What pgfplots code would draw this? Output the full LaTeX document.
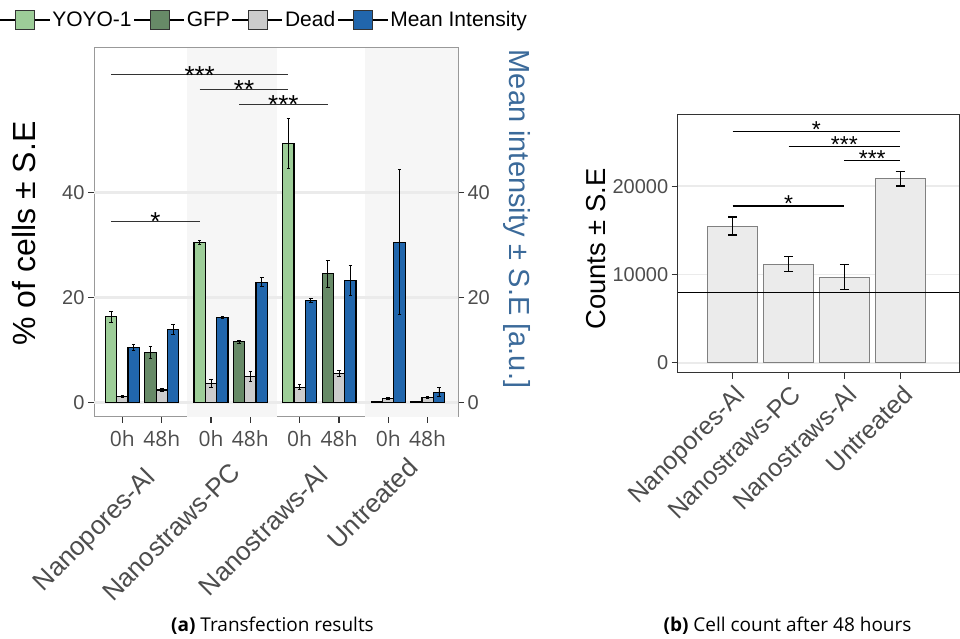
\documentclass[border=0pt]{standalone}
\usepackage{fontspec}
\setmainfont{Liberation Sans}
\newfontfamily\osans{Open Sans}
\usepackage{pgfplots}
\usepackage{pgfplotstable}
\pgfplotsset{compat=1.18}
\definecolor{yoyo}{HTML}{9DCD98}
\definecolor{gfp}{HTML}{678A67}
\definecolor{dead}{HTML}{CCCCCC}
\definecolor{meanint}{HTML}{2166AC}
\definecolor{band}{HTML}{F6F6F6}
\definecolor{gridc}{HTML}{EBEBEB}
\definecolor{ticklab}{HTML}{4D4D4D}
\definecolor{rlab}{HTML}{3B6A9A}
\definecolor{rbar}{HTML}{EBEBEB}

\pgfplotstableread{
x y e
-0.287 16.3 1.0
1.963 30.4 0.4
4.213 49.3 4.8
6.463 0.1 0.03
}\tyoyo
\pgfplotstableread{
x y e
0.713 9.5 1.1
2.963 11.5 0.3
5.213 24.5 2.6
7.463 0.05 0.03
}\tgfp
\pgfplotstableread{
x y e
0 1.1 0.2
1 2.35 0.2
2.25 3.6 0.7
3.25 4.9 0.95
4.5 2.86 0.45
5.5 5.5 0.55
6.75 0.76 0.15
7.75 1.0 0.2
}\tdead
\pgfplotstableread{
x y e
0.287 10.4 0.6
1.287 13.9 0.9
2.537 16.2 0.2
3.537 22.9 0.8
4.787 19.4 0.4
5.787 23.2 2.9
7.037 30.5 13.8
8.037 1.9 0.85
}\tmean
\pgfplotstableread{
x y e
1 15490 1020
2 11170 850
3 9700 1440
4 20830 800
}\tcounts

\pgfplotsset{
  lbar/.style={ybar, bar width=0.287, bar shift=0pt, draw=black, line width=1.1pt,
    error bars/.cd, y dir=both, y explicit,
    error bar style={line width=0.9pt, black},
    error mark options={rotate=90, mark size=1.8pt, line width=0.9pt, black},
    /pgfplots/.cd},
  lbarleg/.style={legend image code/.code={\path (-16pt,0pt) -- (34pt,0pt); \draw[line width=0.8pt, draw=black!80, fill=#1] (0pt,-9.5pt) rectangle (19pt,9.5pt);}},
}

\begin{document}
\begin{tikzpicture}
\path[use as bounding box] (0pt,0pt) rectangle (960pt,639pt);

% ---------- left panel ----------
\begin{axis}[
  at={(94pt,222pt)}, anchor=south west,
  scale only axis, width=364pt, height=369pt,
  xmin=-0.72, xmax=8.52, ymin=-2.8, ymax=67.5,
  axis line style={draw=black!40, line width=1pt},
  xtick={0,1,2.25,3.25,4.5,5.5,6.75,7.75},
  xticklabels={0h,48h,0h,48h,0h,48h,0h,48h},
  xtick pos=bottom, ytick pos=left,
  ytick={0,20,40},
  tick align=outside, major tick length=6pt,
  tick style={draw=black!80, line width=1.3pt},
  /pgf/number format/assume math mode=true,
  x tick label style={font=\osans\fontsize{21}{25}\selectfont, text=ticklab, yshift=-4pt},
  y tick label style={font=\fontsize{20}{24}\selectfont, text=ticklab},
  legend columns=4,
  legend style={at={(-0.261,1.0759)}, anchor=west, draw=none, fill=none,
    font=\fontsize{21}{25}\selectfont, inner sep=0pt, column sep=0pt},
]
\fill[band] (axis cs:1.635,-2.8) rectangle (axis cs:3.92,67.5);
\fill[band] (axis cs:6.16,-2.8) rectangle (axis cs:8.52,67.5);
\draw[gridc, line width=2.5pt] (axis cs:-0.72,0) -- (axis cs:8.52,0);
\draw[gridc, line width=2.5pt] (axis cs:-0.72,20) -- (axis cs:8.52,20);
\draw[gridc, line width=2.5pt] (axis cs:-0.72,40) -- (axis cs:8.52,40);
\addplot[lbar, fill=yoyo, lbarleg=yoyo] table[x=x,y=y,y error=e] {\tyoyo};
\addlegendentry{YOYO-1}
\addplot[lbar, fill=gfp, lbarleg=gfp] table[x=x,y=y,y error=e] {\tgfp};
\addlegendentry{GFP}
\addplot[lbar, fill=dead, lbarleg=dead] table[x=x,y=y,y error=e] {\tdead};
\addlegendentry{Dead}
\addplot[lbar, fill=meanint, lbarleg=meanint] table[x=x,y=y,y error=e] {\tmean};
\addlegendentry{Mean Intensity}
% significance
\draw[black!80, line width=1.3pt] (axis cs:-0.287,62.4) -- (axis cs:4.213,62.4);
\node[font=\fontsize{26}{30}\selectfont, anchor=base, inner sep=0pt, yshift=-9.5pt] at (axis cs:1.963,62.4) {***};
\draw[black!80, line width=1.3pt] (axis cs:1.963,59.6) -- (axis cs:4.213,59.6);
\node[font=\fontsize{26}{30}\selectfont, anchor=base, inner sep=0pt, yshift=-9.5pt] at (axis cs:3.088,59.6) {**};
\draw[black!80, line width=1.3pt] (axis cs:2.963,56.8) -- (axis cs:5.213,56.8);
\node[font=\fontsize{26}{30}\selectfont, anchor=base, inner sep=0pt, yshift=-9.5pt] at (axis cs:4.088,56.8) {***};
\draw[black!80, line width=1.3pt] (axis cs:-0.287,34.5) -- (axis cs:1.963,34.5);
\node[font=\fontsize{26}{30}\selectfont, anchor=base, inner sep=0pt, yshift=-9.5pt] at (axis cs:0.838,34.5) {*};
\end{axis}

% right-hand y axis of left panel
\begin{axis}[
  at={(94pt,222pt)}, anchor=south west,
  scale only axis, width=364pt, height=369pt,
  xmin=-0.72, xmax=8.52, ymin=-2.8, ymax=67.5,
  axis x line=none, axis y line*=right,
  axis line style={draw=black!40, line width=1pt},
  ytick={0,20,40},
  tick align=outside, major tick length=6pt,
  tick style={draw=black!80, line width=1.3pt},
  /pgf/number format/assume math mode=true,
  y tick label style={font=\fontsize{20}{24}\selectfont, text=ticklab},
]
\addplot[draw=none, forget plot] table[x=x,y=y] {\tmean};
\end{axis}

% axis titles, left panel
\node[rotate=90, anchor=base, font=\fontsize{32}{38}\selectfont] at (35.5pt,405.5pt) {\% of cells ± S.E};
\node[rotate=-90, anchor=base, font=\fontsize{29}{34}\selectfont, text=rlab] at (509pt,420pt) {Mean intensity ± S.E [a.u.]};

% group labels
\begin{scope}[every node/.style={rotate=45, anchor=north east, inner sep=0pt, font=\fontsize{26}{30}\selectfont, text=ticklab}]
\node at (143pt,173pt) {Nanopores-Al};
\node at (229pt,178pt) {Nanostraws-PC};
\node at (316pt,175pt) {Nanostraws-Al};
\node at (406pt,183pt) {Untreated};
\end{scope}

% ---------- right panel ----------
\begin{axis}[
  at={(677.7pt,266.3pt)}, anchor=south west,
  scale only axis, width=281.6pt, height=257.7pt,
  xmin=0.014, xmax=5.06, ymin=-1134, ymax=28080,
  axis line style={draw=black!80, line width=1pt},
  xtick={1,2,3,4},
  xticklabels={Nanopores-Al,Nanostraws-PC,Nanostraws-Al,Untreated},
  ytick={0,10000,20000}, yticklabels={0,10000,20000},
  scaled y ticks=false,
  xtick pos=bottom, ytick pos=left,
  tick align=outside, major tick length=6pt,
  tick style={draw=black!80, line width=1.3pt},
  ymajorgrids, grid style={draw=gridc, line width=1.8pt},
  x tick label style={font=\fontsize{25}{30}\selectfont, text=ticklab, inner sep=0pt, xshift=1pt, yshift=-5pt, rotate=45, anchor=north east},
  y tick label style={font=\fontsize{20}{24}\selectfont, text=ticklab},
]
\addplot[ybar, bar width=0.9, bar shift=0pt, fill=rbar, draw=black!50, line width=0.9pt,
  error bars/.cd, y dir=both, y explicit,
  error bar style={line width=1.2pt, black},
  error mark options={rotate=90, mark size=4.5pt, line width=1.2pt, black}]
  table[x=x,y=y,y error=e] {\tcounts};
\addplot[black, line width=1.2pt, forget plot] coordinates {(0.014,8000) (5.06,8000)};
\draw[black, line width=1.3pt] (axis cs:1,26210) -- (axis cs:4,26210);
\node[font=\fontsize{23}{27}\selectfont, anchor=base, inner sep=0pt, yshift=-6pt] at (axis cs:2.5,26210) {*};
\draw[black, line width=1.3pt] (axis cs:2,24545) -- (axis cs:4,24545);
\node[font=\fontsize{23}{27}\selectfont, anchor=base, inner sep=0pt, yshift=-6pt] at (axis cs:3,24545) {***};
\draw[black, line width=1.3pt] (axis cs:3,22920) -- (axis cs:4,22920);
\node[font=\fontsize{23}{27}\selectfont, anchor=base, inner sep=0pt, yshift=-6pt] at (axis cs:3.5,22920) {***};
\draw[black, line width=1.3pt] (axis cs:1,17765) -- (axis cs:3,17765);
\node[font=\fontsize{23}{27}\selectfont, anchor=base, inner sep=0pt, yshift=-6pt] at (axis cs:2,17765) {*};
\end{axis}
\node[rotate=90, anchor=base, font=\fontsize{27.4}{32}\selectfont] at (605pt,390pt) {Counts ± S.E};

% captions
\node[anchor=base, font=\osans\fontsize{19}{23}\selectfont, inner sep=0pt] at (272.5pt,7pt) {\textbf{(a)} Transfection results};
\node[anchor=base, font=\osans\fontsize{19}{23}\selectfont, inner sep=0pt] at (787.5pt,7pt) {\textbf{(b)} Cell count after 48 hours};
\end{tikzpicture}
\end{document}
